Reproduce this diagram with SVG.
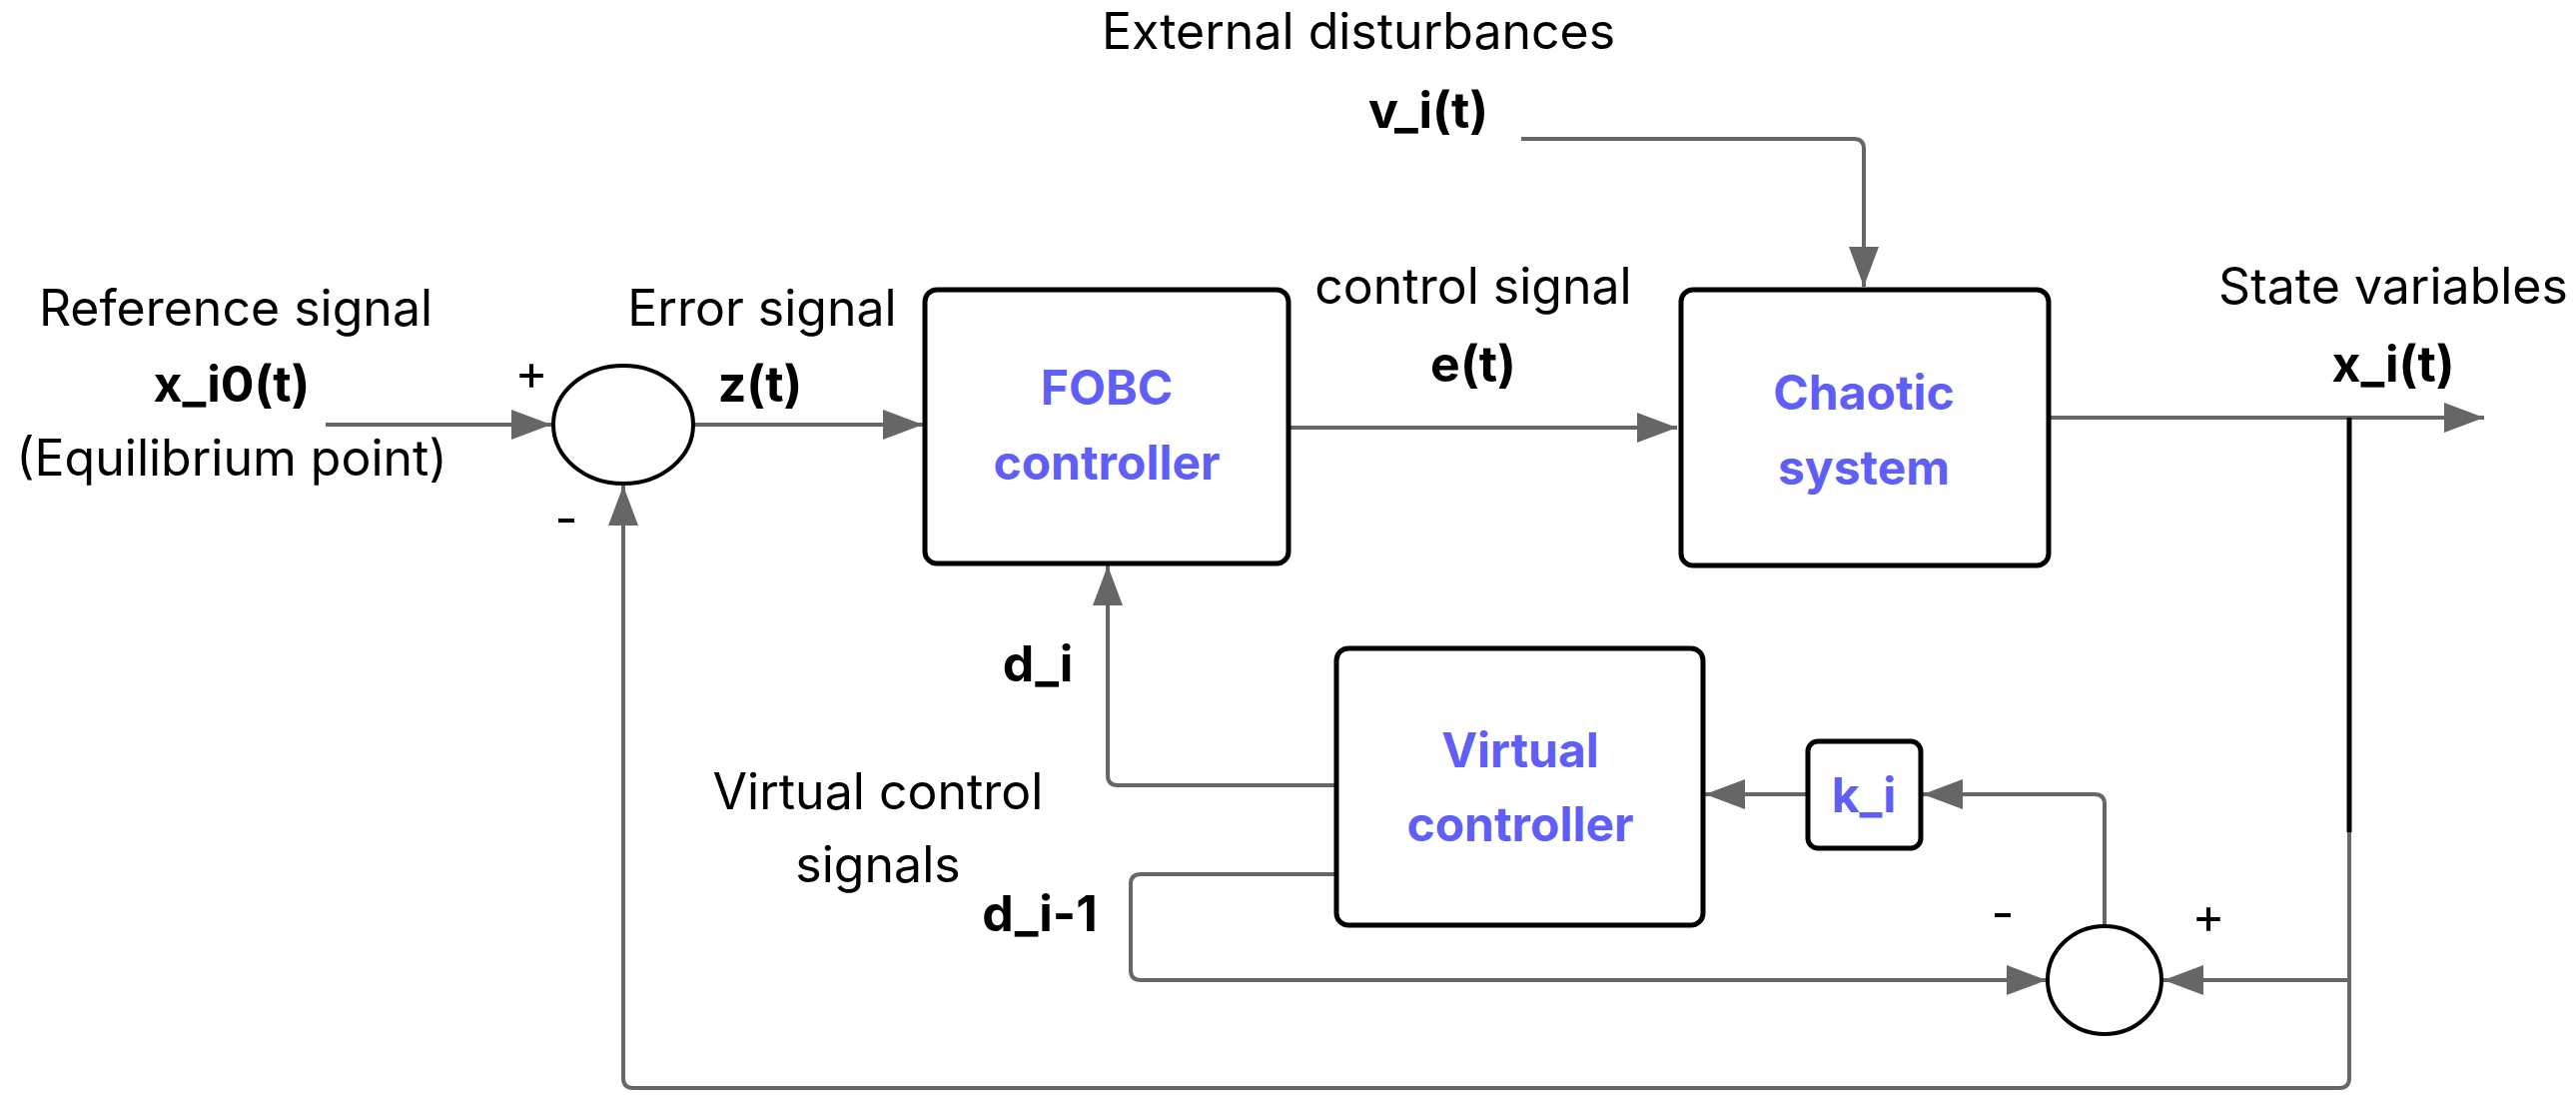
<svg xmlns="http://www.w3.org/2000/svg" width="2579" height="1098" viewBox="0 0 2579 1098">
<style>
text{font-family:Inter,"Liberation Sans",sans-serif;font-size:50px;fill:#000;text-anchor:middle}
.b{font-weight:bold}
.n{font-weight:bold;fill:#5f5ff7;font-size:48px}
.box{fill:#fff;stroke:#000;stroke-width:5}
.c{fill:none;stroke:#666;stroke-width:4;stroke-linejoin:round}
</style>
<defs>
<marker id="h" viewBox="0 0 40 30" refX="40" refY="15" markerWidth="40" markerHeight="30" markerUnits="userSpaceOnUse" orient="auto"><path d="M0,0L40,15L0,30z" fill="#666"/></marker></defs>
<g id="connectors" class="c">
<path d="M326,425H552" marker-end="url(#h)"/>
<path d="M695,425H924" marker-end="url(#h)"/>
<path d="M1290,428H1679" marker-end="url(#h)"/>
<path d="M1523,139H1856Q1866,139 1866,149V287" marker-end="url(#h)"/>
<path d="M2052,418H2487" marker-end="url(#h)"/>
<path d="M2352,833V1079Q2352,1089 2342,1089H634Q624,1089 624,1079V486" marker-end="url(#h)"/>
<path d="M2352,981H2166" marker-end="url(#h)"/>
<path d="M2107,927V805Q2107,795 2097,795H1925" marker-end="url(#h)"/>
<path d="M1810,795H1707" marker-end="url(#h)"/>
<path d="M1338,786H1119Q1109,786 1109,776V566" marker-end="url(#h)"/>
<path d="M1338,875H1142Q1132,875 1132,885V971Q1132,981 1142,981H2049" marker-end="url(#h)"/>
<path d="M2352,418V833" style="stroke:#000;stroke-width:5"/>
</g>
<g id="sum1"><ellipse cx="624" cy="425" rx="70" ry="59" class="box" style="stroke-width:4"/><text x="532" y="390">+</text><text x="567" y="537">-</text></g>
<g id="sum2"><ellipse cx="2107" cy="981" rx="57" ry="54" class="box" style="stroke-width:4"/><text x="2005" y="932">-</text><text x="2211" y="934">+</text></g>
<g id="fobc"><rect x="926" y="290" width="364" height="274" rx="12" class="box"/><text class="n" x="1108" y="405">FOBC</text><text class="n" x="1108" y="480">controller</text></g>
<g id="chaotic"><rect x="1683" y="290" width="368" height="276" rx="12" class="box"/><text class="n" x="1866" y="410">Chaotic</text><text class="n" x="1866" y="485">system</text></g>
<g id="virtual"><rect x="1338" y="649" width="367" height="277" rx="12" class="box"/><text class="n" x="1522" y="768">Virtual</text><text class="n" x="1522" y="842">controller</text></g>
<g id="ki"><rect x="1810" y="742" width="113" height="107" rx="10" class="box"/><text class="n" x="1866" y="813">k_i</text></g>
<g id="labels">
<text x="236" y="326">Reference signal</text>
<text class="b" x="232" y="402">x_i0(t)</text>
<text x="232" y="476">(Equilibrium point)</text>
<text x="763" y="326">Error signal</text>
<text class="b" x="761" y="402">z(t)</text>
<text class="b" x="1039" y="682">d_i</text>
<text x="879" y="810">Virtual control</text>
<text x="879" y="883">signals</text>
<text class="b" x="1041" y="932">d_i-1</text>
<text x="1475" y="304">control signal</text>
<text class="b" x="1475" y="382">e(t)</text>
<text x="1360" y="49">External disturbances</text>
<text class="b" x="1430" y="128">v_i(t)</text>
<text x="2396" y="304">State variables</text>
<text class="b" x="2396" y="382">x_i(t)</text>
</g>
</svg>
